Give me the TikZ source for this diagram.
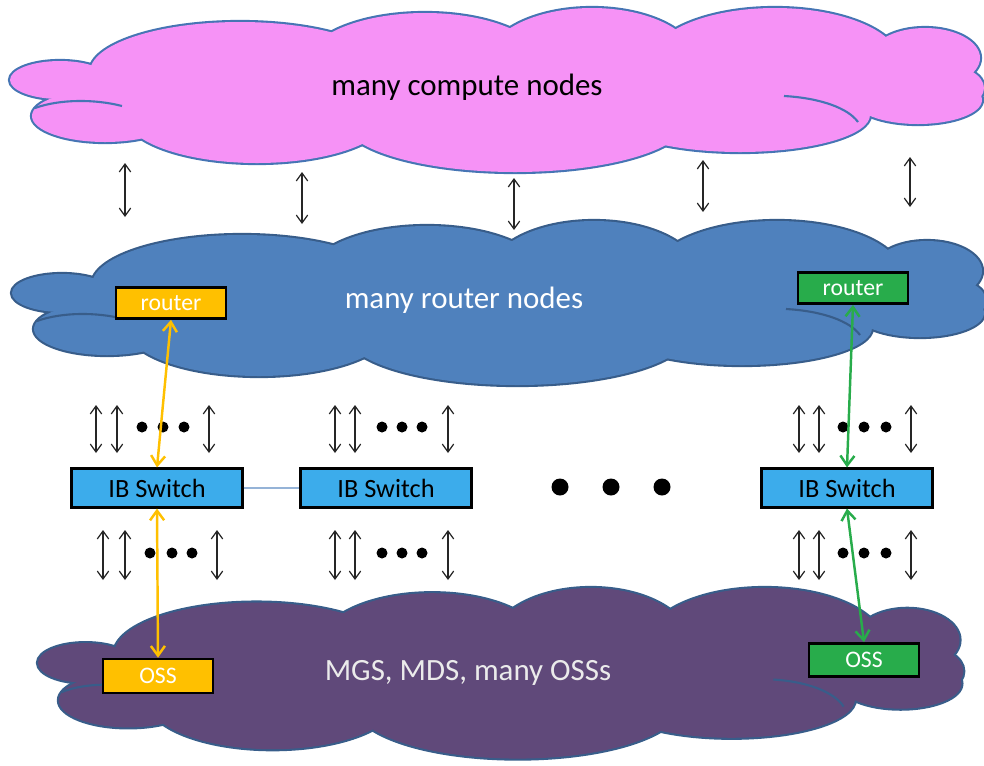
\documentclass[tikz,border=0pt]{standalone}
\usepackage{fontspec}
\setmainfont{Carlito}
\usetikzlibrary{arrows.meta}
\definecolor{pinkfill}{RGB}{246,146,246}
\definecolor{cloudline}{RGB}{70,117,180}
\definecolor{routerfill}{RGB}{79,129,189}
\definecolor{routerline}{RGB}{56,93,138}
\definecolor{ossfill}{RGB}{96,73,122}
\definecolor{gold}{RGB}{255,192,0}
\definecolor{leaf}{RGB}{40,172,75}
\definecolor{switchfill}{RGB}{60,172,235}
\definecolor{linkblue}{RGB}{149,179,215}
% bumps of one cloud: x/y/x radius/y radius
\newcommand{\cloudbumps}{60/80/50/19, 105/116/73/26, 240/72/150/50, 425/65/120/52,
  592/62/105/54, 775/62/125/54, 925/58/55/30, 940/88/44/24, 918/100/64/24,
  740/115/130/37, 515/120/172/52, 257/115/132/48, 515/90/400/50}
\newcommand{\drawcloud}[2]{%
  \foreach \cx/\cy/\rx/\ry in \cloudbumps
    \filldraw[fill=#1, draw=#2, line width=2.4pt] (\cx,\cy) ellipse [x radius=\rx, y radius=\ry];
  \foreach \cx/\cy/\rx/\ry in \cloudbumps
    \fill[#1] (\cx,\cy) ellipse [x radius=\rx, y radius=\ry];
  \draw[#2, line width=1.2pt] (35,108) .. controls (60,99) and (95,99) .. (122,106);
  \draw[#2, line width=1.2pt] (784,96) .. controls (820,98) and (848,108) .. (858,122);
}

\begin{document}
\begin{tikzpicture}[x=0.02cm,y=-0.02cm,
    box/.style={draw=black, line width=1.5pt, inner sep=0pt, minimum width=2.2cm,
      minimum height=0.62cm, font=\fontsize{13.5}{15}\selectfont, text=white},
    switch/.style={draw=black, line width=1.2pt, fill=switchfill, inner sep=0pt,
      minimum width=3.42cm, minimum height=0.78cm, font=\fontsize{15}{17}\selectfont},
    updown/.style={{Straight Barb[length=4.5pt,width=6.5pt]}-{Straight Barb[length=4.5pt,width=6.5pt]},
      line width=0.7pt, black!85},
    route/.style={{Straight Barb[length=5.5pt,width=8pt]}-{Straight Barb[length=5.5pt,width=8pt]},
      line width=1.4pt},
    cloudtext/.style={font=\fontsize{17.6}{20}\selectfont}]
  \useasboundingbox (0,0) rectangle (984,765);
  % the three clouds
  \begin{scope}
    \drawcloud{pinkfill}{cloudline}
  \end{scope}
  \begin{scope}[shift={(2,213)}]
    \drawcloud{routerfill}{routerline}
  \end{scope}
  \begin{scope}[shift={(38,588)},xscale=0.95,yscale=1.04,shift={(-10,-8)}]
    \drawcloud{ossfill}{routerline}
  \end{scope}
  \node[cloudtext] (compute) at (467,87) {many compute nodes};
  \node[cloudtext, text=white] (routers) at (464,300) {many router nodes};
  \node[cloudtext, text=white!92!black] (storage) at (468,673) {MGS, MDS, many OSSs};

  % arrows between compute and router clouds
  \foreach \x/\a/\b [count=\i] in {125/163/217, 302/172/224, 514/178/230, 703/160/212, 910/157/207} {
    \coordinate (up\i) at (\x,\a);
    \coordinate (dn\i) at (\x,\b);
    \draw[updown] (up\i) -- (dn\i);
  }
  % arrows above and below the switches
  \foreach \x [count=\i] in {96,117,209,335,355,448,799,819,911} {
    \coordinate (hi\i) at (\x,405);
    \coordinate (lo\i) at (\x,453);
    \draw[updown] (hi\i) -- (lo\i);
  }
  \foreach \x [count=\i] in {103,125,217,335,355,448,799,819,911} {
    \coordinate (hib\i) at (\x,530);
    \coordinate (lob\i) at (\x,580);
    \draw[updown] (hib\i) -- (lob\i);
  }
  \foreach \x in {142,163,184,382,402,422,843,864,886}
    \fill (\x,427) circle (5.5);
  \foreach \x in {150,172,192,382,402,422,843,864,886}
    \fill (\x,553) circle (5.5);

  % switches
  \node[switch] (swA) at (157,488) {IB Switch};
  \node[switch] (swB) at (386,488) {IB Switch};
  \node[switch] (swC) at (847,488) {IB Switch};
  \draw[linkblue, line width=0.8pt] (swA) -- (swB);
  \foreach \x in {560,611,662}
    \fill (\x,487) circle (8.5);

  % routers and OSSs
  \node[box, fill=gold] (rtrA) at (171,303) {router};
  \node[box, fill=leaf] (rtrB) at (853,288) {router};
  \node[box, fill=gold, minimum height=0.68cm] (ossA) at (158,676) {OSS};
  \node[box, fill=leaf, minimum height=0.66cm] (ossB) at (864,660) {OSS};
  \draw[route, gold] (rtrA.south) -- (swA.north);
  \draw[route, gold] (swA.south) -- (ossA.north);
  \draw[route, leaf] (rtrB.south) -- (swC.north);
  \draw[route, leaf] (swC.south) -- (ossB.north);
\end{tikzpicture}
\end{document}
